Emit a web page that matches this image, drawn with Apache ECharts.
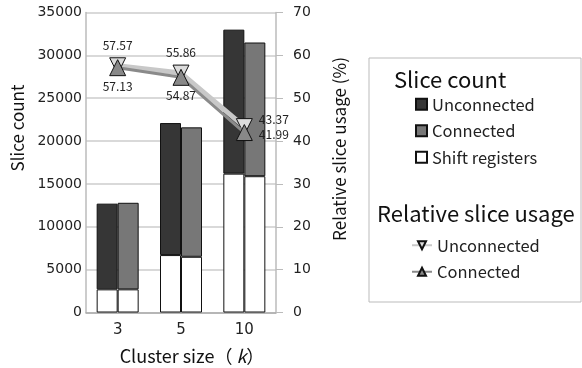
<!DOCTYPE html>
<html><head><meta charset="utf-8">
<script src="https://cdn.jsdelivr.net/npm/echarts@6/dist/echarts.min.js"></script>
<style>html,body{margin:0;padding:0;background:#fff}#c{width:582px;height:368px}</style>
</head><body><div id="c"></div>
<script>
var categories = ['3', '5', '10'];
var shiftUnconnected = [2700, 6700, 16200];
var restUnconnected = [10000, 15400, 16800];   // stacked on shift registers -> totals 12700, 22100, 33000
var shiftConnected = [2700, 6500, 15900];
var restConnected = [10100, 15100, 15600];     // totals 12800, 21600, 31500
var usageUnconnected = [57.57, 55.86, 43.37];
var usageConnected = [57.13, 54.87, 41.99];
var leftTicks = {min: 0, max: 35000, interval: 5000};
var rightTicks = {min: 0, max: 70, interval: 10};

var FONT = '"Noto Sans CJK JP", "Noto Sans", sans-serif';
var TICKFONT = '"DejaVu Sans", sans-serif';
var chart = echarts.init(document.getElementById('c'), null, {renderer: 'canvas'});

function lineData(vals, lastPos, lastOffset, pos) {
  return vals.map(function (v, i) {
    if (i === vals.length - 1) {
      return {value: v, label: {position: lastPos, offset: lastOffset, distance: 6}};
    }
    return {value: v, label: {position: pos}};
  });
}

var barBase = {type: 'bar', barWidth: 21, barGap: '0%'};

chart.setOption({
  animation: false,
  textStyle: {fontFamily: FONT},
  grid: {left: 86, right: 306, top: 12.5, bottom: 55.5},
  xAxis: {
    type: 'category', data: categories,
    axisLine: {lineStyle: {color: '#aaa', width: 1.5}},
    axisTick: {alignWithLabel: true, length: 5, lineStyle: {color: '#aaa'}},
    axisLabel: {fontSize: 15, color: '#222', margin: 10, fontFamily: TICKFONT}
  },
  yAxis: [{
    type: 'value', min: leftTicks.min, max: leftTicks.max, interval: leftTicks.interval,
    axisLine: {show: true, lineStyle: {color: '#bbb', width: 1.5}},
    axisTick: {show: false},
    splitLine: {lineStyle: {color: '#ccc', width: 1.5}},
    axisLabel: {fontSize: 14, color: '#222', margin: 4, fontFamily: TICKFONT, formatter: function (v) { return String(v); }}
  }, {
    type: 'value', min: rightTicks.min, max: rightTicks.max, interval: rightTicks.interval,
    position: 'right',
    axisLine: {show: true, lineStyle: {color: '#bbb', width: 1.5}},
    axisTick: {show: true, length: 7, lineStyle: {color: '#bbb'}},
    splitLine: {show: false},
    axisLabel: {fontSize: 14, color: '#222', margin: 17, fontFamily: TICKFONT}
  }],
  legend: [{
    left: 410, top: 91, orient: 'vertical', itemWidth: 11, itemHeight: 11, itemGap: 10,
    textStyle: {fontSize: 16.5, color: '#222', fontFamily: FONT},
    data: [{name: 'Unconnected', icon: 'rect'}, {name: 'Connected', icon: 'rect'}, {name: 'Shift registers', icon: 'rect'}]
  }, {
    left: 406, top: 232, orient: 'vertical', itemWidth: 20, itemHeight: 10, itemGap: 10,
    textStyle: {fontSize: 16.5, color: '#222', fontFamily: FONT},
    formatter: function (n) { return n.replace(' usage', ''); },
    data: ['Unconnected usage', 'Connected usage']
  }],
  graphic: [
    {type: 'rect', shape: {x: 369, y: 58, width: 212, height: 244}, style: {fill: 'none', stroke: '#bbb', lineWidth: 1}, silent: true},
    {type: 'text', x: 394, y: 80, style: {text: 'Slice count', font: '22px ' + FONT, fill: '#111', verticalAlign: 'middle'}},
    {type: 'text', x: 377, y: 214, style: {text: 'Relative slice usage', font: '22px ' + FONT, fill: '#111', verticalAlign: 'middle'}},
    {type: 'text', x: 18, y: 128, rotation: Math.PI / 2, style: {text: 'Slice count', font: '17px ' + FONT, fill: '#111', align: 'center', verticalAlign: 'middle'}},
    {type: 'text', x: 340, y: 149, rotation: Math.PI / 2, style: {text: 'Relative slice usage (%)', font: '17px ' + FONT, fill: '#111', align: 'center', verticalAlign: 'middle'}},
    {type: 'text', x: 192, y: 356, style: {
      rich: {n: {font: '18px ' + FONT, fill: '#111'}, k: {font: 'italic 18px ' + FONT, fill: '#111'}},
      text: '{n|Cluster size（ }{k|k}{n|）}', align: 'center', verticalAlign: 'middle'}}
  ],
  series: [
    Object.assign({}, barBase, {name: 'Shift registers', stack: 'u', data: shiftUnconnected, itemStyle: {color: '#ffffff', borderColor: '#111', borderWidth: 1}}),
    Object.assign({}, barBase, {name: 'Unconnected', stack: 'u', data: restUnconnected, itemStyle: {color: '#363636', borderColor: '#111', borderWidth: 1}}),
    Object.assign({}, barBase, {name: 'Shift registers', stack: 'c', data: shiftConnected, itemStyle: {color: '#ffffff', borderColor: '#111', borderWidth: 1}}),
    Object.assign({}, barBase, {name: 'Connected', stack: 'c', data: restConnected, itemStyle: {color: '#777777', borderColor: '#111', borderWidth: 1}}),
    {
      name: 'Unconnected usage', type: 'line', yAxisIndex: 1, z: 5,
      symbol: 'triangle', symbolRotate: 180, symbolSize: 16,
      lineStyle: {color: '#c8c8c8', width: 5},
      itemStyle: {color: '#dcdcdc', borderColor: '#111', borderWidth: 1},
      label: {show: true, fontSize: 12, color: '#222', distance: 6, fontFamily: FONT},
      data: lineData(usageUnconnected, 'right', [0, -7], 'top')
    },
    {
      name: 'Connected usage', type: 'line', yAxisIndex: 1, z: 6,
      symbol: 'triangle', symbolSize: 16,
      lineStyle: {color: '#8a8a8a', width: 3},
      itemStyle: {color: '#888888', borderColor: '#111', borderWidth: 1},
      label: {show: true, fontSize: 12, color: '#222', distance: 4, fontFamily: FONT},
      data: lineData(usageConnected, 'right', [0, 2], 'bottom')
    }
  ]
});
</script>
</body></html>
